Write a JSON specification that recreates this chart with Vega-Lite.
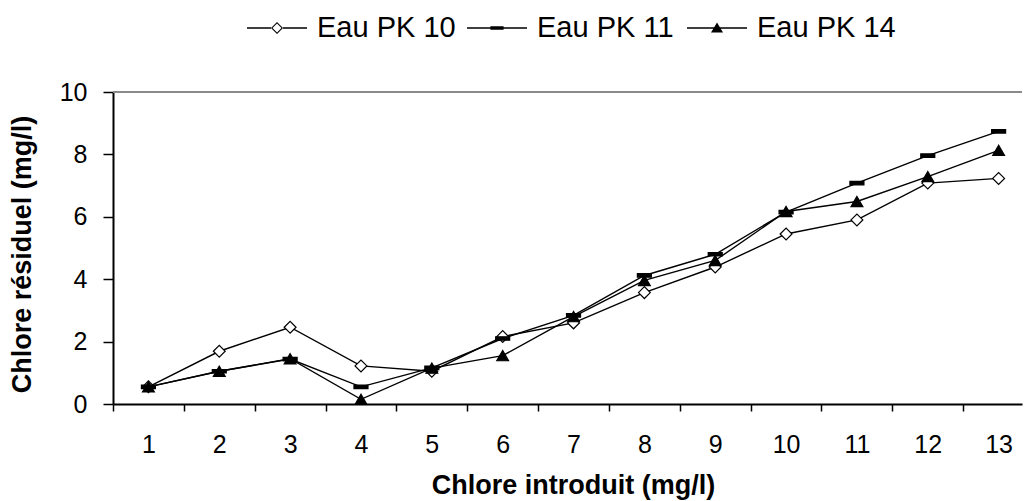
{
  "$schema": "https://vega.github.io/schema/vega-lite/v6.json",
  "width": 909,
  "height": 312,
  "autosize": {"type": "none"},
  "padding": {"left": 113, "top": 92, "right": 2, "bottom": 97},
  "background": "white",
  "config": {
    "view": {"stroke": null},
    "font": "Liberation Sans",
    "axis": {"domainColor": "black", "tickColor": "black", "labelColor": "black", "titleColor": "black", "grid": false, "labelFont": "Liberation Sans", "titleFont": "Liberation Sans"},
    "legend": {"padding": 0}
  },
  "data": {
    "values": [
      {"x": 1, "series": "Eau PK 10", "y": 0.55},
      {"x": 2, "series": "Eau PK 10", "y": 1.69},
      {"x": 3, "series": "Eau PK 10", "y": 2.46},
      {"x": 4, "series": "Eau PK 10", "y": 1.22},
      {"x": 5, "series": "Eau PK 10", "y": 1.05},
      {"x": 6, "series": "Eau PK 10", "y": 2.16},
      {"x": 7, "series": "Eau PK 10", "y": 2.6},
      {"x": 8, "series": "Eau PK 10", "y": 3.57},
      {"x": 9, "series": "Eau PK 10", "y": 4.39},
      {"x": 10, "series": "Eau PK 10", "y": 5.45},
      {"x": 11, "series": "Eau PK 10", "y": 5.9},
      {"x": 12, "series": "Eau PK 10", "y": 7.08},
      {"x": 13, "series": "Eau PK 10", "y": 7.23},
      {"x": 1, "series": "Eau PK 11", "y": 0.55},
      {"x": 2, "series": "Eau PK 11", "y": 1.05},
      {"x": 3, "series": "Eau PK 11", "y": 1.44},
      {"x": 4, "series": "Eau PK 11", "y": 0.55},
      {"x": 5, "series": "Eau PK 11", "y": 1.16},
      {"x": 6, "series": "Eau PK 11", "y": 2.1},
      {"x": 7, "series": "Eau PK 11", "y": 2.84},
      {"x": 8, "series": "Eau PK 11", "y": 4.12},
      {"x": 9, "series": "Eau PK 11", "y": 4.8},
      {"x": 10, "series": "Eau PK 11", "y": 6.15},
      {"x": 11, "series": "Eau PK 11", "y": 7.08},
      {"x": 12, "series": "Eau PK 11", "y": 7.96},
      {"x": 13, "series": "Eau PK 11", "y": 8.74},
      {"x": 1, "series": "Eau PK 14", "y": 0.55},
      {"x": 2, "series": "Eau PK 14", "y": 1.05},
      {"x": 3, "series": "Eau PK 14", "y": 1.45},
      {"x": 4, "series": "Eau PK 14", "y": 0.15},
      {"x": 5, "series": "Eau PK 14", "y": 1.15},
      {"x": 6, "series": "Eau PK 14", "y": 1.55},
      {"x": 7, "series": "Eau PK 14", "y": 2.8},
      {"x": 8, "series": "Eau PK 14", "y": 3.96},
      {"x": 9, "series": "Eau PK 14", "y": 4.6},
      {"x": 10, "series": "Eau PK 14", "y": 6.17},
      {"x": 11, "series": "Eau PK 14", "y": 6.49},
      {"x": 12, "series": "Eau PK 14", "y": 7.29},
      {"x": 13, "series": "Eau PK 14", "y": 8.13}
    ]
  },
  "resolve": {"axis": {"x": "independent"}},
  "layer": [
    {
      "mark": {"type": "line", "color": "black", "strokeWidth": 1.4},
      "encoding": {
        "x": {
          "field": "x", "type": "quantitative",
          "scale": {"domain": [0.5, 13.33], "nice": false, "zero": false},
          "axis": {"orient": "bottom", "values": [0.5, 1.5, 2.5, 3.5, 4.5, 5.5, 6.5, 7.5, 8.5, 9.5, 10.5, 11.5, 12.5], "labels": false, "title": null, "tickSize": 7, "tickWidth": 1.5, "domainWidth": 2}
        },
        "y": {
          "field": "y", "type": "quantitative",
          "scale": {"domain": [0, 10], "nice": false},
          "axis": {"values": [0, 2, 4, 6, 8, 10], "tickSize": 10, "tickWidth": 1.5, "domainWidth": 2, "labelFontSize": 25, "labelPadding": 16, "title": "Chlore résiduel (mg/l)", "titleFontSize": 27, "titleFontWeight": "bold", "titleX": -91, "titleY": 162, "titleAngle": -90, "titleBaseline": "middle", "titleAlign": "center"}
        },
        "detail": {"field": "series"}
      }
    },
    {
      "mark": {"type": "rule", "color": "#8a8a8a", "strokeWidth": 1.5},
      "encoding": {"y": {"datum": 10, "type": "quantitative"}}
    },
    {
      "mark": {"type": "point", "filled": true, "color": "black", "strokeWidth": 0, "opacity": 0},
      "encoding": {
        "x": {"field": "x", "type": "quantitative", "axis": null},
        "y": {"field": "y", "type": "quantitative"},
        "shape": {
          "field": "series", "type": "nominal",
          "scale": {"domain": ["Eau PK 10", "Eau PK 11", "Eau PK 14"], "range": [
            "M-1,-0.5L-1,-0.5M-1,0.5L-1,0.5M-1,-0.025H-0.2V0.025H-1ZM0.2,-0.025H1V0.025H0.2ZM-0.2,0L0,-0.2L0.2,0L0,0.2ZM-0.15,0L0,0.15L0.15,0L0,-0.15Z",
            "M-1,-0.5L-1,-0.5M-1,0.5L-1,0.5M-1,-0.025H1V0.025H-1ZM-0.22,-0.06H0.22V0.06H-0.22Z",
            "M-1,-0.5L-1,-0.5M-1,0.5L-1,0.5M-1,-0.025H1V0.025H-1ZM-0.2,0.15L0,-0.18L0.2,0.15Z"
          ]},
          "legend": {
            "title": null, "orient": "none", "direction": "horizontal", "legendX": 134, "legendY": -94,
            "symbolSize": 3600, "symbolOpacity": 1, "symbolFillColor": "black", "symbolStrokeWidth": 0,
            "labelFontSize": 29, "labelColor": "black", "labelOffset": 10, "columnPadding": 11, "gridAlign": "all",
            "encode": {
              "symbols": {
                "fill": {"value": "black"},
                "fillOpacity": {"value": 1},
                "strokeWidth": {"value": 0},
                "opacity": {"value": 1}
              }
            }
          }
        }
      }
    },
    {
      "mark": {"type": "point", "filled": true, "stroke": "black", "strokeWidth": 1.2, "opacity": 1},
      "encoding": {
        "x": {
          "field": "x", "type": "quantitative",
          "axis": {"orient": "bottom", "values": [1, 2, 3, 4, 5, 6, 7, 8, 9, 10, 11, 12, 13], "ticks": false, "tickSize": 0, "domain": false, "labelFontSize": 25, "labelPadding": 28, "labelBaseline": "top", "title": "Chlore introduit (mg/l)", "titleFontSize": 27, "titleFontWeight": "bold", "titleBaseline": "alphabetic", "titleY": 89, "titleX": 460}
        },
        "y": {"field": "y", "type": "quantitative"},
        "shape": {"condition": [{"test": "datum.series === 'Eau PK 10'", "value": "diamond"}, {"test": "datum.series === 'Eau PK 14'", "value": "triangle-up"}], "value": "M-1,-0.25H1V0.25H-1Z"},
        "fill": {"condition": {"test": "datum.series === 'Eau PK 10'", "value": "white"}, "value": "black"},
        "size": {"condition": {"test": "datum.series === 'Eau PK 11'", "value": 196}, "value": 140}
      }
    }
  ]
}
